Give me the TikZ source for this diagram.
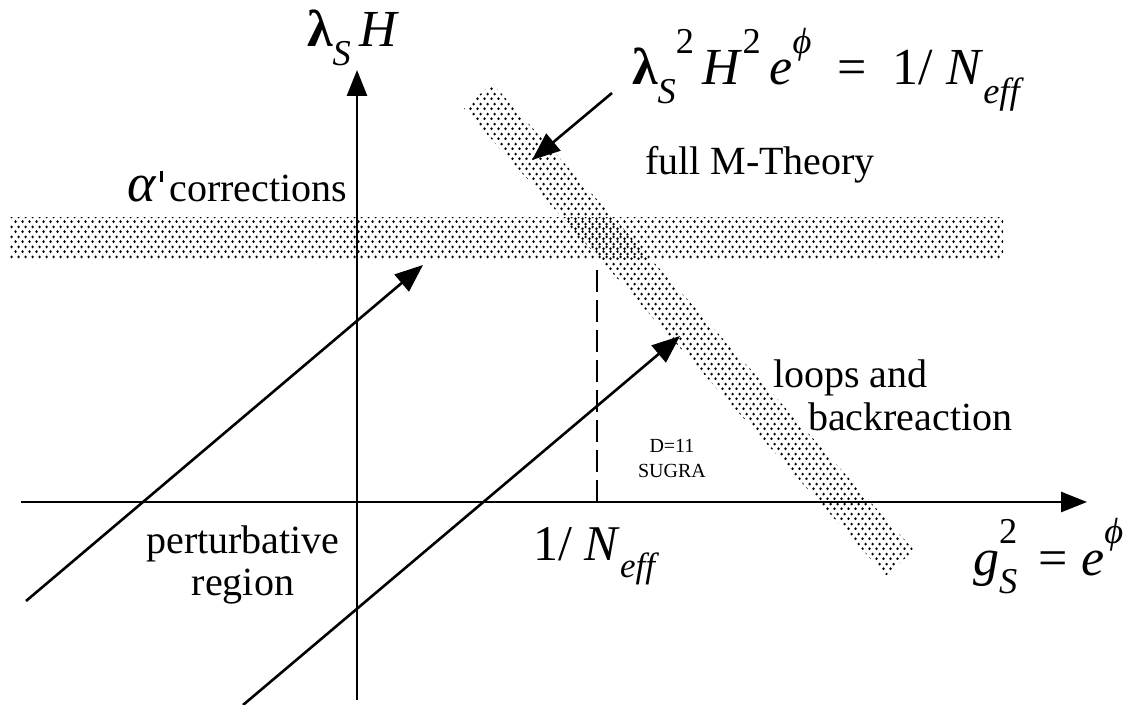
\documentclass[tikz,border=0pt]{standalone}
\usepackage{fontspec}
\usepackage{graphicx}
\setmainfont{Liberation Serif}
\usetikzlibrary{arrows.meta,patterns}
\pgfdeclarepatternformonly{bandDots}{\pgfpointorigin}{\pgfpoint{3.5pt}{4.8pt}}{\pgfpoint{3.5pt}{4.8pt}}{%
 \pgfpathcircle{\pgfpoint{0.875pt}{1.2pt}}{0.75pt}%
 \pgfpathcircle{\pgfpoint{2.625pt}{3.6pt}}{0.75pt}%
 \pgfusepath{fill}}
\newcommand{\fsz}[1]{\fontsize{#1}{#1}\selectfont}
\newcommand{\dn}[1]{\raisebox{-0.35em}{\scalebox{0.7}{#1}}}
\newcommand{\up}[1]{\raisebox{0.6em}{\scalebox{0.7}{#1}}}
\newcommand{\lam}{\textbf{λ}}
\newcommand{\primetick}{\hspace{0.08em}\rule[0.5em]{0.07em}{0.28em}}
\tikzset{
  ax/.style={line width=1.3pt,-{Triangle[length=13pt,width=10pt]}},
  flowarrow/.style={line width=1.3pt,-{Triangle[length=14pt,width=11pt]}},
  band/.style={pattern=bandDots,pattern color=black},
  lbl/.style={inner sep=0pt,outer sep=0pt},
}
\begin{document}
\begin{tikzpicture}[x=0.5pt,y=-0.5pt]
\useasboundingbox (0,0) rectangle (1124,705);
% bands
\fill[band] (10,218) rectangle (1003,260);
\fill[band] (492.1,83.3) -- (463.9,108.7) -- (885.9,575.7) -- (914.1,550.3) -- cycle;
% coordinates
\coordinate (yb) at (357,700);
\coordinate (yt) at (357,70);
\coordinate (xl) at (21,502);
\coordinate (xr) at (1087,502);
\coordinate (a1s) at (26,601);
\coordinate (a1e) at (423,265);
\coordinate (a2s) at (243,705);
\coordinate (a2e) at (680,336);
\coordinate (a3s) at (612,93);
\coordinate (a3e) at (532,160);
\coordinate (dt) at (597,263);
\coordinate (db) at (597,502);
% axes
\draw[ax] (yb) -- (yt);
\draw[ax] (xl) -- (xr);
% arrows
\draw[flowarrow] (a1s) -- (a1e);
\draw[flowarrow] (a2s) -- (a2e);
\draw[flowarrow] (a3s) -- (a3e);
\draw[line width=1.3pt,dash pattern=on 11pt off 4pt] (db) -- (dt);
% labels
\node[lbl,anchor=base west] (ylab) at (307,47) {\fsz{26pt}\lam\dn{\textit{S}}\,\textit{H}};
\node[lbl,anchor=base west] (eq) at (632,85) {\fsz{26pt}\lam\dn{\textit{S}}\up{2}\,\textit{H}\up{2}\,\textit{e}\up{\textit{ϕ}}\enspace=\enspace1/ \textit{N}\dn{\textit{eff}}};
\node[lbl,anchor=base east] (alp) at (347,202) {\fsz{20pt}{\fsz{27pt}\textit{α}}\primetick\,corrections};
\node[lbl,anchor=base west] (mth) at (645,175) {\fsz{20pt}full M-Theory};
\node[lbl,anchor=base west] (loops) at (773,388) {\fsz{20pt}loops and};
\node[lbl,anchor=base west] (back) at (808,430) {\fsz{20pt}backreaction};
\node[lbl,anchor=base] (d11) at (672,452) {\fsz{10pt}D=11};
\node[lbl,anchor=base] (sugra) at (672,477) {\fsz{10pt}SUGRA};
\node[lbl,anchor=base] (pert) at (243,553) {\fsz{20pt}perturbative};
\node[lbl,anchor=base] (reg) at (243,595) {\fsz{20pt}region};
\node[lbl,anchor=base west] (neff) at (533,560) {\fsz{25pt}1/ \textit{N}\dn{\textit{eff}}};
\node[lbl,anchor=base west] (xlab) at (973,575) {\fsz{26pt}\textit{g}\makebox[0pt][l]{\up{2}}\dn{\textit{S}}\, = \textit{e}\up{\textit{ϕ}}};
\end{tikzpicture}
\end{document}
